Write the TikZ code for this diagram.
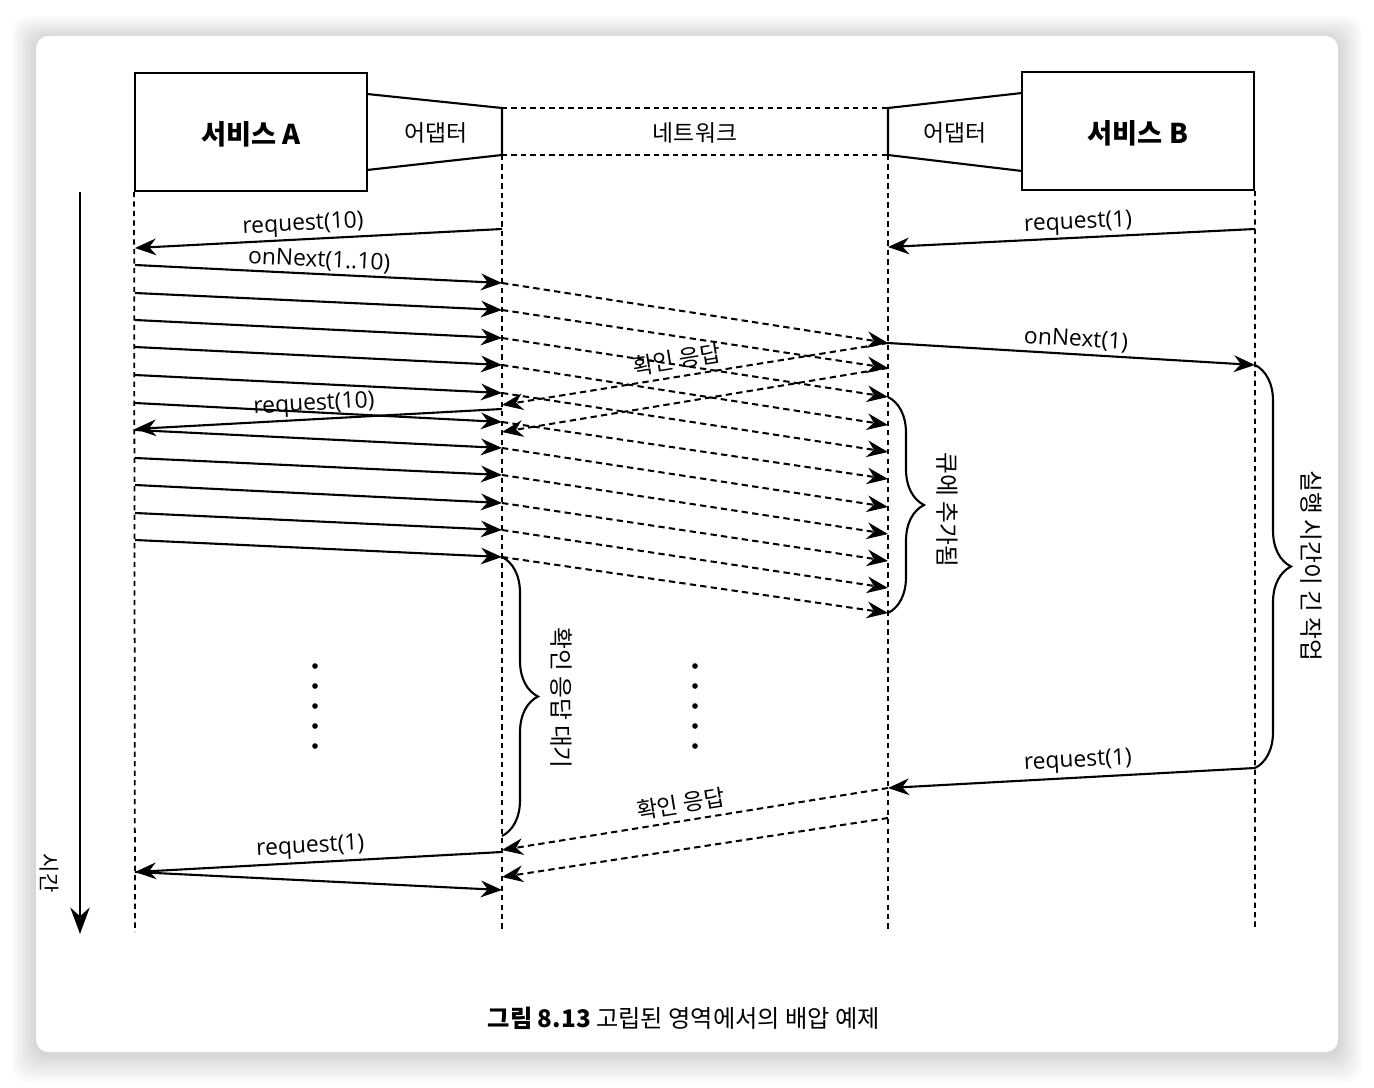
\documentclass[tikz,border=0pt]{standalone}
\usepackage{fontspec}
\setmainfont{Open Sans}
\newfontfamily\kr{Noto Sans CJK KR}
\usetikzlibrary{arrows.meta,decorations.pathreplacing,positioning}

\begin{document}
\begin{tikzpicture}[x=0.02cm,y=-0.02cm,
  svc/.style={draw,line width=1.1pt,minimum width=4.64cm,minimum height=2.36cm,font=\kr\fontsize{15.5}{18}\selectfont\bfseries},
  lbl/.style={font=\kr\fontsize{13}{15}\selectfont},
  side/.style={font=\kr\fontsize{13.5}{15}\selectfont,rotate=-90},
  life/.style={draw,line width=1pt,dash pattern=on 3pt off 2.4pt},
  msg/.style={line width=1.2pt,-{Stealth[length=12pt,width=9.5pt]},font=\fontsize{13}{15}\selectfont},
  net/.style={msg,line width=1.15pt,dash pattern=on 3.6pt off 2.4pt},
  brc/.style={draw,line width=1.2pt,decorate,decoration={brace,amplitude=0.72cm}},
  frame/.style={line width=1.2pt}]

  % page and card
  \useasboundingbox (0,0) rectangle (1374,1088);
  \fill[white] (0,0) rectangle (1374,1088);
  \foreach \d in {1,...,10}
    \fill[black,opacity=0.017,rounded corners=9pt] (36-2.4*\d,38-2.2*\d) rectangle (1338+2.4*\d,1054+2.8*\d);
  \fill[white,rounded corners=7pt] (36,36) rectangle (1338,1052);

  % services, adapters, network
  \node[svc] (svc_a) at (251,132) {\raisebox{-7pt}[0pt][0pt]{서비스 A}};
  \node[svc] (svc_b) at (1138,131) {\raisebox{-7pt}[0pt][0pt]{서비스 B}};
  \coordinate (ad_a_t) at (502,108);
  \coordinate (ad_a_b) at (502,155);
  \coordinate (ad_b_t) at (888,108);
  \coordinate (ad_b_b) at (888,155);
  \draw[frame] (367,94) -- (ad_a_t) -- (ad_a_b) -- (367,170);
  \draw[frame] (1022,93) -- (ad_b_t) -- (ad_b_b) -- (1022,171);
  \draw[life] (ad_a_t) -- (ad_b_t) (ad_a_b) -- (ad_b_b);
  \node[lbl] (ad_a) at (436,133) {어댑터};
  \node[lbl] (ad_b) at (955,133) {어댑터};
  \node[lbl] (netw) at (695,133) {네트워크};

  % lifelines
  \coordinate (a_end) at (135,932);
  \coordinate (aa_end) at (502,932);
  \coordinate (ab_end) at (888,932);
  \coordinate (b_end) at (1255,930);
  \draw[life] (svc_a.south west) -- (a_end);
  \draw[life] (ad_a_b) -- (aa_end);
  \draw[life] (ad_b_b) -- (ab_end);
  \draw[life] (svc_b.south east) -- (b_end);

  % time axis
  \coordinate (t_top) at (80,192);
  \coordinate (t_bot) at (80,934);
  \draw[line width=1.4pt,-{Stealth[length=15pt,width=11pt]}] (t_top) -- (t_bot);
  \node[side,font=\kr\fontsize{12}{14}\selectfont] (time) at (49,873) {시간};

  % onNext from A, forwarded over the network
  \foreach \ys/\ye/\yn [count=\i] in {265/283/343,293/310/368,320/338/397,347/365/425,375/393/452,403/422/479,430/448/507,458/475/534,485/503/561,513/530/588,540/557/613} {
    \coordinate (a_on\i) at (135,\ys);
    \coordinate (aa_on\i) at (502,\ye);
    \coordinate (ab_on\i) at (888,\yn);
    \draw[msg] (a_on\i) -- (aa_on\i);
    \draw[net] (aa_on\i) -- (ab_on\i);
  }
  \path[msg] (a_on1) -- node[above=-2pt,sloped] {onNext(1..10)} (aa_on1);

  \coordinate (aa_req1) at (502,229);
  \coordinate (a_req1) at (135,248);
  \coordinate (aa_req2) at (502,409);
  \coordinate (a_req2) at (135,429);
  \coordinate (b_req1) at (1255,229);
  \coordinate (ab_req1) at (888,247);
  \coordinate (b_on1) at (1255,365);
  \coordinate (aa_ack1) at (502,405);
  \coordinate (aa_ack2) at (502,432);
  \coordinate (b_req2) at (1255,768);
  \coordinate (ab_req2) at (888,788);
  \coordinate (aa_ack3) at (502,850);
  \coordinate (ab_ack4) at (888,818);
  \coordinate (aa_ack4) at (502,877);
  \coordinate (aa_req3) at (502,852);
  \coordinate (a_req3) at (135,872);
  \coordinate (aa_on12) at (502,890);
  \coordinate (aa_wait) at (502,836);

  \path[msg]
  (aa_req1) edge node[above=-2pt,sloped,pos=0.54] {request(10)} (a_req1)
  (aa_req2) edge node[above=-2pt,sloped,pos=0.51] {request(10)} (a_req2)
  (b_req1) edge node[above=-2pt,sloped,pos=0.48] {request(1)} (ab_req1)
  (ab_on1) edge node[above=-1.5pt,sloped,pos=0.51] {onNext(1)} (b_on1)
  (b_req2) edge node[above=-1pt,sloped,pos=0.48] {request(1)} (ab_req2)
  (aa_req3) edge node[above=-1.5pt,sloped,pos=0.52] {request(1)} (a_req3)
  (a_req3) edge (aa_on12)
  ;
  \path[net]
  (ab_on1) edge node[lbl,above,sloped,pos=0.54] {확인 응답} (aa_ack1)
  (ab_on2) edge (aa_ack2)
  (ab_req2) edge node[lbl,above,sloped,pos=0.53] {확인 응답} (aa_ack3)
  (ab_ack4) edge (aa_ack4)
  ;

  % braces
  \draw[brc] (ab_on3) -- (ab_on11);
  \draw[brc] (aa_on11) -- (aa_wait);
  \draw[brc] (b_on1) -- (b_req2);
  \node[side] (queued) at (947,510) {큐에 추가됨};
  \node[side] (waiting) at (561,698) {확인 응답 대기};
  \node[side] (longjob) at (1311,566) {실행 시간이 긴 작업};

  % elided messages
  \foreach \y in {666,686,706,726,746} {
    \fill (315,\y) circle (1.6pt);
    \fill (695,\y) circle (1.6pt);
  }

  \node[font=\kr\fontsize{13.8}{16}\selectfont] (cap) at (684,1018) {\textbf{그림 8.13} 고립된 영역에서의 배압 예제};
\end{tikzpicture}
\end{document}
